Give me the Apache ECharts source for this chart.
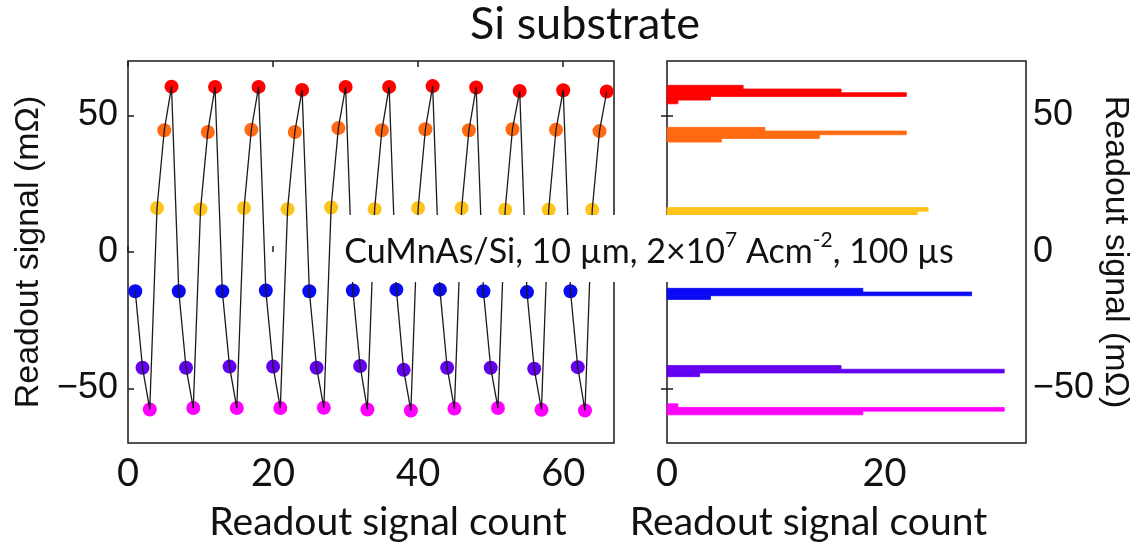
<!DOCTYPE html>
<html>
<head>
<meta charset="utf-8">
<script src="https://cdn.jsdelivr.net/npm/echarts@6/dist/echarts.min.js"></script>
<style>
  html, body { margin: 0; padding: 0; background: #fff; }
  #chart { width: 1148px; height: 550px; }
</style>
</head>
<body>
<div id="chart"></div>
<script>
(function() {
  'use strict';

  // --- Readout values per level, in measurement order (mOhm) ---
  var blueVals    = [-14.4, -14.4, -14.4, -14.1, -14.4, -14.1, -13.8, -13.8, -14.4, -14.7, -14.4];
  var purpleVals  = [-42.4, -42.4, -42.0, -42.0, -42.4, -41.8, -43.2, -42.4, -42.4, -42.8, -42.2];
  var magentaVals = [-57.7, -57.2, -57.2, -57.2, -57.1, -57.7, -58.1, -57.4, -57.2, -57.8, -58.1];
  var yellowVals  = [16.1, 15.7, 16.1, 15.7, 16.3, 15.7, 16.1, 16.1, 15.5, 15.5, 15.5];
  var orangeVals  = [44.6, 44.0, 44.8, 44.0, 45.4, 44.6, 45.0, 44.6, 45.0, 44.8, 44.3];
  var redVals     = [60.6, 60.5, 60.5, 59.4, 60.5, 60.5, 60.8, 60.3, 59.0, 59.3, 58.8];

  // --- Histogram bins (centres in mOhm) and counts per level ---
  var BIN = 1.35;
  var blueBins    = [-14.0, -15.35, -16.7];     var blueCounts    = [18, 28, 4];
  var purpleBins  = [-42.3, -43.65, -45.0];     var purpleCounts  = [16, 31, 3];
  var magentaBins = [-56.3, -57.65, -59.0];     var magentaCounts = [1, 31, 18];
  var yellowBins  = [15.6, 14.25, 12.9];        var yellowCounts  = [24, 23, 3];
  var orangeBins  = [45.0, 43.65, 42.3, 40.95]; var orangeCounts  = [9, 22, 14, 5];
  var redBins     = [60.4, 59.05, 57.7, 56.35, 55.0]; var redCounts = [7, 16, 22, 4, 1];

  // --- Tick values ---
  var xTicks = [0, 20, 40, 60];
  var histTicks = [0, 20];
  var yTicks = [-50, 0, 50];

  var levels = [blueVals, purpleVals, magentaVals, yellowVals, orangeVals, redVals];
  var bins = [blueBins, purpleBins, magentaBins, yellowBins, orangeBins, redBins];
  var counts = [blueCounts, purpleCounts, magentaCounts, yellowCounts, orangeCounts, redCounts];
  var colors = ['#0a0af5', '#6400f0', '#ff00ff', '#ffc41a', '#ff6a12', '#ff0000'];

  var INK = '#1a1a1a';
  var SANS = '"Liberation Sans", Arial, sans-serif';
  var CAL = 'Lato, "Open Sans", sans-serif';

  // measurement sequence: one cycle visits all six levels
  var seq = [];
  for (var k = 0; k < blueVals.length; k++) {
    for (var j = 0; j < levels.length; j++) {
      seq.push([k * levels.length + j + 1, levels[j][k]]);
    }
  }

  function minusFmt(v) { return String(v).replace('-', '\u2212'); }

  function tickAxis(extra) {
    var base = {
      type: 'value',
      axisLine: { show: false },
      splitLine: { show: false },
      axisTick: { inside: true, length: 6, lineStyle: { color: INK, width: 1.5 } },
      axisLabel: { show: false }
    };
    for (var key in extra) base[key] = extra[key];
    return base;
  }

  var series = [];

  levels.forEach(function(vals, j) {
    series.push({
      type: 'scatter',
      xAxisIndex: 0,
      yAxisIndex: 0,
      symbolSize: 14,
      itemStyle: { color: colors[j], opacity: 1 },
      data: vals.map(function(v, k) { return [k * levels.length + j + 1, v]; }),
      z: 2
    });
  });

  // black trace drawn over the markers, as in the original
  series.push({
    type: 'line',
    xAxisIndex: 0,
    yAxisIndex: 0,
    data: seq,
    symbol: 'none',
    lineStyle: { color: INK, width: 1.3 },
    z: 3
  });

  function renderBar(params, api) {
    var n = api.value(0);
    var c = api.value(1);
    var p0 = api.coord([0, c + BIN / 2]);
    var p1 = api.coord([n, c - BIN / 2]);
    var col = api.visual('color');
    return {
      type: 'rect',
      shape: { x: p0[0], y: p0[1], width: p1[0] - p0[0], height: p1[1] - p0[1] },
      style: { fill: col, stroke: col, lineWidth: 0.8 }
    };
  }

  bins.forEach(function(b, j) {
    series.push({
      type: 'custom',
      xAxisIndex: 2,
      yAxisIndex: 1,
      renderItem: renderBar,
      encode: { x: 0, y: 1 },
      itemStyle: { color: colors[j] },
      data: b.map(function(c, i) { return [counts[j][i], c]; }),
      z: 2
    });
  });

  var chart = echarts.init(document.getElementById('chart'), null, { renderer: 'canvas' });

  chart.setOption({
    animation: false,
    backgroundColor: '#fff',
    grid: [
      { left: 128, top: 61, width: 486, height: 382, show: true, borderColor: INK, borderWidth: 1.5, outerBoundsMode: 'none' },
      { left: 667, top: 61, width: 359, height: 382, show: true, borderColor: INK, borderWidth: 1.5, outerBoundsMode: 'none' }
    ],
    xAxis: [
      tickAxis({
        gridIndex: 0, min: 0, max: 67, position: 'bottom',
        axisTick: { inside: true, length: 6, customValues: xTicks, lineStyle: { color: INK, width: 1.5 } },
        axisLabel: { show: true, customValues: xTicks, fontFamily: CAL, fontSize: 38, color: '#111', margin: 12 },
        name: 'Readout signal count', nameLocation: 'middle', nameGap: 60,
        nameTextStyle: { fontFamily: CAL, fontSize: 39, color: '#111', padding: [0, 0, 0, 34] }
      }),
      tickAxis({
        gridIndex: 0, min: 0, max: 67, position: 'top',
        axisTick: { inside: true, length: 6, customValues: xTicks, lineStyle: { color: INK, width: 1.5 } }
      }),
      tickAxis({
        gridIndex: 1, min: 0, max: 33, position: 'bottom',
        axisTick: { inside: true, length: 6, customValues: histTicks, lineStyle: { color: INK, width: 1.5 } },
        axisLabel: { show: true, customValues: histTicks, fontFamily: CAL, fontSize: 38, color: '#111', margin: 12 },
        name: 'Readout signal count', nameLocation: 'middle', nameGap: 60,
        nameTextStyle: { fontFamily: CAL, fontSize: 39, color: '#111', padding: [0, 76, 0, 0] }
      }),
      tickAxis({
        gridIndex: 1, min: 0, max: 33, position: 'top',
        axisTick: { inside: true, length: 6, customValues: histTicks, lineStyle: { color: INK, width: 1.5 } }
      })
    ],
    yAxis: [
      tickAxis({
        gridIndex: 0, min: -70, max: 70, position: 'left',
        axisTick: { inside: true, length: 6, customValues: yTicks, lineStyle: { color: INK, width: 1.5 } },
        axisLabel: { show: true, customValues: yTicks, fontFamily: SANS, fontSize: 36, color: '#111', margin: 10, formatter: minusFmt },
        name: 'Readout signal (m\u03a9)', nameLocation: 'middle', nameGap: 82, nameRotate: 90,
        nameTextStyle: { fontFamily: SANS, fontSize: 34, color: '#111' }
      }),
      tickAxis({
        gridIndex: 1, min: -70, max: 70, position: 'left',
        axisTick: { inside: true, length: 6, customValues: yTicks, lineStyle: { color: INK, width: 1.5 } }
      }),
      tickAxis({
        gridIndex: 1, min: -70, max: 70, position: 'right',
        axisTick: { inside: true, length: 6, customValues: yTicks, lineStyle: { color: INK, width: 1.5 } },
        axisLabel: { show: true, customValues: yTicks, fontFamily: SANS, fontSize: 36, color: '#111', margin: 7, formatter: minusFmt },
        name: 'Readout signal (m\u03a9)', nameLocation: 'middle', nameGap: 72, nameRotate: -90,
        nameTextStyle: { fontFamily: SANS, fontSize: 34, color: '#111' }
      })
    ],
    graphic: [
      {
        type: 'text', x: 585, y: 24, z: 100,
        style: { text: 'Si substrate', fontFamily: CAL, fontSize: 45, fill: '#111', align: 'center', verticalAlign: 'middle' }
      },
      {
        type: 'rect', z: 100,
        shape: { x: 333, y: 215, width: 632, height: 67 },
        style: { fill: '#fff' }
      },
      {
        type: 'text', x: 649, y: 252, z: 101,
        style: {
          text: '{n|CuMnAs/Si, 10 \u00b5m, 2\u00d710}{s|7}{n| Acm}{s|-2}{n|, 100 \u00b5s}',
          align: 'center', verticalAlign: 'middle',
          rich: {
            n: { fontFamily: CAL, fontSize: 34, lineHeight: 44, fill: '#111' },
            s: { fontFamily: CAL, fontSize: 21, lineHeight: 30, verticalAlign: 'top', fill: '#111' }
          }
        }
      }
    ],
    series: series
  });
})();
</script>
</body>
</html>
